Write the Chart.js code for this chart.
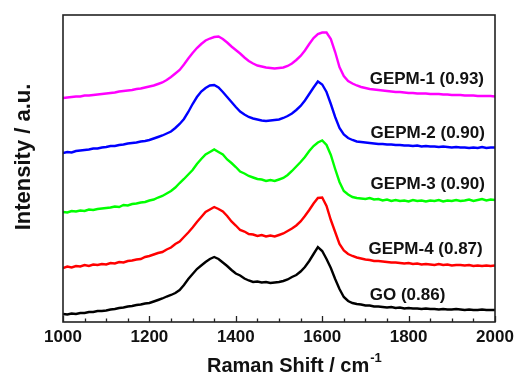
<!DOCTYPE html>
<html>
<head>
<meta charset="utf-8">
<script src="https://cdn.jsdelivr.net/npm/chart.js@4.4.0/dist/chart.umd.min.js"></script>
<style>
  body { margin: 0; background: #fff; }
  #wrap { width: 516px; height: 374px; }
</style>
</head>
<body>
<div id="wrap"><canvas id="chart" width="516" height="374"></canvas></div>
<script>
// Raman shift grid (cm-1)
const ramanShift = [
  1000, 1010, 1020, 1030, 1040, 1050, 1060, 1070, 1080, 1090,
  1100, 1110, 1120, 1130, 1140, 1150, 1160, 1170, 1180, 1190,
  1200, 1210, 1220, 1230, 1240, 1250, 1260, 1270, 1280, 1290,
  1300, 1310, 1320, 1330, 1340, 1350, 1360, 1370, 1380, 1390,
  1400, 1410, 1420, 1430, 1440, 1450, 1460, 1470, 1480, 1490,
  1500, 1510, 1520, 1530, 1540, 1550, 1560, 1570, 1580, 1590,
  1600, 1610, 1620, 1630, 1640, 1650, 1660, 1670, 1680, 1690,
  1700, 1710, 1720, 1730, 1740, 1750, 1760, 1770, 1780, 1790,
  1800, 1810, 1820, 1830, 1840, 1850, 1860, 1870, 1880, 1890,
  1900, 1910, 1920, 1930, 1940, 1950, 1960, 1970, 1980, 1990,
  2000
]

// intensities (a.u., already stacked with offsets as in the figure)
const gepm1 = [
  224, 224.5, 225, 225.5, 225.5, 226.5, 226.5, 227, 227.5, 228,
  228.5, 229, 229.5, 230.5, 231, 231.5, 232, 233, 233.5, 234.5,
  235.5, 236.5, 238, 239.5, 242, 245, 248.5, 252, 257.5, 263.5,
  269, 274, 278, 281.5, 283.5, 285, 285.5, 283, 279.5, 275.5,
  272, 268.5, 264.5, 261, 258.5, 256.5, 255.5, 254.5, 254, 253.5,
  254, 254.5, 256, 258.5, 262, 266, 271.5, 278, 284, 288,
  289.5, 289.5, 283, 270, 255, 246, 241, 238.5, 236.5, 235,
  234, 233, 232.5, 232, 231.5, 231, 230.5, 230, 230, 229.5,
  229, 229, 228.5, 228.5, 228.5, 228, 228, 228, 227.5, 227.5,
  227, 227, 227, 226.5, 226.5, 226.5, 226, 226, 226, 226,
  225.5
]
const gepm2 = [
  169, 170, 169.5, 171, 171.5, 172, 172.5, 173.5, 173.5, 174.5,
  175, 176, 176, 177, 177.5, 178.5, 179, 179.5, 180.5, 181,
  182, 183.5, 185, 186.5, 188.5, 190.5, 194, 198, 203, 210,
  218, 225, 230.5, 234, 236.5, 237, 234.5, 230, 225, 220,
  215, 210.5, 207.5, 205, 203.5, 202.5, 201.5, 201, 201.5, 202,
  202.5, 204, 206, 208.5, 212, 216, 221.5, 228, 234.5, 240.5,
  237.5, 230, 218, 205, 194, 187.5, 184, 182, 180.5, 180,
  179.5, 179, 178.5, 178, 178, 177.5, 177.5, 177, 177, 176.5,
  176.5, 176, 176.5, 175.5, 176, 175.5, 175.5, 175, 175.5, 175,
  174.5, 175, 174.5, 174.5, 174, 174.5, 174, 175, 174, 174.5,
  174.5
]
const gepm3 = [
  110, 109.5, 111, 110.5, 111.5, 111, 112.5, 112, 113, 113.5,
  114, 114.5, 115.5, 115, 117, 116.5, 118, 118.5, 119.5, 120,
  121.5, 122.5, 124.5, 126, 128.5, 131, 134.5, 139, 143, 147.5,
  152, 158, 163, 167.5, 170, 172.5, 170, 167.5, 162.5, 159,
  155, 150.5, 148.5, 146, 144.5, 143, 142.5, 141, 142, 141,
  142.5, 144, 147, 151, 155.5, 160, 165, 171, 176, 179.5,
  181.5, 177, 167, 153, 140, 131, 127.5, 125, 124, 123.5,
  123, 124, 122.5, 123, 121.5, 122.5, 121, 122, 121, 121.5,
  120.5, 122, 121, 121.5, 120.5, 121.5, 121, 122, 120.5, 121.5,
  121, 122, 121, 121.5, 122.5, 121, 122, 123, 121.5, 122.5,
  122
]
const gepm4 = [
  54, 55.5, 54.5, 56, 55.5, 57, 56, 57.5, 57, 58,
  57.5, 59, 58.5, 60, 59.5, 61, 61.5, 62.5, 63, 65,
  66, 67.5, 69, 70, 72.5, 74.5, 78, 80.5, 85, 89.5,
  94.5, 100, 105, 110, 112.5, 115, 113, 110.5, 106, 100.5,
  96.5, 92, 90.5, 88, 87.5, 86, 87, 85.5, 86.5, 85.5,
  87, 88.5, 91, 93.5, 96.5, 100.5, 106, 112, 118.5, 124,
  124.5, 116, 102, 90, 78, 71.5, 68, 66, 64.5, 63.5,
  62.5, 62, 61, 61, 60.5, 60, 59.5, 59.5, 59, 58.5,
  59, 58, 58.5, 57.5, 58, 57.5, 57, 58, 57, 57.5,
  56.5, 57, 57, 56.5, 57, 56, 56.5, 56, 56.5, 56,
  56.5
]
const go = [
  8, 7.5, 8.5, 8, 9, 9, 10, 10, 11, 11,
  11.5, 12.5, 13, 14, 14.5, 15.5, 16, 17, 17.5, 18.5,
  19, 20.5, 22, 23.5, 25.5, 27, 29, 32, 37, 43,
  48, 53, 56.5, 60, 63, 65, 63, 59.5, 56, 52,
  48.5, 46.5, 43.5, 41.5, 40, 40.5, 39.5, 40, 39, 39.5,
  40, 41, 42.5, 45, 47, 50.5, 55, 61, 68, 75,
  71, 63, 54, 43, 33, 25, 21, 19, 18, 17.5,
  16.5, 16.5, 15.5, 15.5, 15, 14.5, 15, 14, 14.5, 13.5,
  14, 13.5, 13.5, 13, 13.5, 13, 13, 12.5, 13, 12.5,
  12.5, 13, 12.5, 12, 12.5, 12, 12, 12.5, 12, 12,
  12
]

const seriesNames = ['GEPM-1 (0.93)', 'GEPM-2 (0.90)', 'GEPM-3 (0.90)', 'GEPM-4 (0.87)', 'GO (0.86)']
const xTicks = [1000, 1200, 1400, 1600, 1800, 2000]

const colors = ['#ff00ff', '#0000ff', '#00ff00', '#ff0000', '#000000']
// where each sample name sits, in data units
const labelAt = [[1710, 243], [1712, 189], [1712, 138], [1707, 73], [1710, 27]]

const FONT = 'Arial, "Liberation Sans", sans-serif'

const toPoints = ys => ys.map((y, i) => ({ x: ramanShift[i], y }))

const frame = {
    id: 'frame',
    afterDatasetsDraw(chart) {
        const { ctx, chartArea: a, scales: { x } } = chart
        ctx.save()
        ctx.strokeStyle = '#222'
        ctx.lineWidth = 1.6
        ctx.strokeRect(a.left, a.top, a.right - a.left, a.bottom - a.top)
        ctx.lineWidth = 1.3
        ctx.beginPath()
        for (let v = 1000; v <= 2000; v += 50) {
            const px = Math.round(x.getPixelForValue(v)) + 0.5
            const len = v % 200 === 0 ? 6 : 3.5
            ctx.moveTo(px, a.bottom)
            ctx.lineTo(px, a.bottom - len)
        }
        ctx.stroke()
        ctx.restore()
    },
    afterDraw(chart) {
        const { ctx, chartArea: a, scales: { x, y } } = chart
        ctx.save()
        ctx.fillStyle = '#111'

        // sample names
        ctx.font = 'bold 17px ' + FONT
        ctx.textBaseline = 'middle'
        ctx.textAlign = 'left'
        seriesNames.forEach((name, i) => {
            ctx.fillText(name, x.getPixelForValue(labelAt[i][0]), y.getPixelForValue(labelAt[i][1]))
        })

        // x title with superscript
        ctx.textBaseline = 'alphabetic'
        ctx.font = 'bold 20px ' + FONT
        const main = 'Raman Shift / cm'
        const w = ctx.measureText(main).width
        const sx = a.left + 144
        ctx.fillText(main, sx, 372)
        ctx.font = 'bold 13px ' + FONT
        ctx.fillText('-1', sx + w + 1, 362)

        // y title
        ctx.font = 'bold 22px ' + FONT
        ctx.textAlign = 'center'
        ctx.textBaseline = 'middle'
        ctx.translate(24, 157)
        ctx.rotate(-Math.PI / 2)
        ctx.fillText('Intensity / a.u.', 0, 0)
        ctx.restore()
    }
}

const ctx = document.getElementById('chart').getContext('2d')
const chart = new Chart(ctx, {
    type: 'line',
    data: {
        datasets: [gepm1, gepm2, gepm3, gepm4, go].map((ys, i) => ({
            label: seriesNames[i],
            data: toPoints(ys),
            borderColor: colors[i],
            borderWidth: 2.4,
            pointRadius: 0,
            tension: 0,
            fill: false
        }))
    },
    options: {
        responsive: false,
        animation: false,
        layout: { padding: { left: 63, right: 21, top: 15, bottom: 0 } },
        plugins: { legend: { display: false }, tooltip: { enabled: false } },
        scales: {
            x: {
                type: 'linear',
                min: 1000,
                max: 2000,
                grid: { display: false, drawTicks: false },
                border: { display: false },
                afterFit: s => { s.height = 52; s.paddingRight = 0; s.paddingLeft = 0 },
                afterBuildTicks: s => { s.ticks = xTicks.map(v => ({ value: v })) },
                ticks: {
                    autoSkip: false,
                    maxRotation: 0,
                    padding: 5,
                    color: '#111',
                    callback: v => String(v),
                    font: { family: FONT, size: 17, weight: 'bold' }
                }
            },
            y: {
                display: false,
                min: 0,
                max: 307
            }
        }
    },
    plugins: [frame]
})
</script>
</body>
</html>
